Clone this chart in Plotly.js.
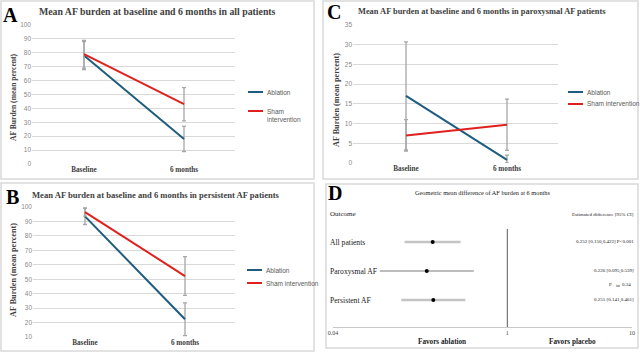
<!DOCTYPE html>
<html><head><meta charset="utf-8">
<script src="https://cdn.plot.ly/plotly-3.0.1.min.js"></script>
<style>html,body{margin:0;padding:0;background:#fff}#chart{width:640px;height:352px}</style>
</head><body><div id="chart"></div>
<script>
// ---- data ----
const timepoints = ['Baseline', '6 months'];
const seriesNames = ['Ablation', 'Sham intervention'];

// Panel A: all patients
const allAblation = [78, 18];
const allAblationErr = [10, 9];
const allSham = [79, 43];
const allShamErr = [10, 12];

// Panel C: paroxysmal AF patients
const paroxAblation = [17, 0.8];
const paroxAblationErrPlus = [13.7, 1.2];
const paroxAblationErrMinus = [13.7, 0.8];
const paroxSham = [7, 9.7];
const paroxShamErr = [4, 6.5];

// Panel B: persistent AF patients
const persAblation = [93.5, 22.3];
const persAblationErr = [5.6, 11.3];
const persSham = [96.5, 52.2];
const persShamErr = [2.8, 13.4];

// Panel D: forest plot
const outcomes = ['All patients', 'Paroxysmal AF', 'Persistent AF'];
const estimates = [0.252, 0.226, 0.255];
const ciLow = [0.150, 0.095, 0.141];
const ciHigh = [0.422, 0.539, 0.461];
const pValues = [' P<0.001', '', ''];
const pInteraction = '0.34';
const forestTicks = [0.04, 1, 10];
const forestTickText = ['0.04', '1', '10'];

// ---- helpers ----
const W = 640, H = 352;
const px = x => x / W;
const py = y => 1 - y / H;
const BLUE = '#1F5C7E', RED = '#E0201E', ERR = '#a6a6a6';
const SERIF = 'Liberation Serif, Times New Roman, serif';
const SANS = 'Liberation Sans, Arial, sans-serif';

function lineTrace(y, plus, minus, color, xa, ya, name) {
  return {x: [0, 1], y: y, type: 'scatter', mode: 'lines', name: name,
    line: {color: color, width: 2}, xaxis: xa, yaxis: ya, showlegend: false, hoverinfo: 'skip',
    error_y: {type: 'data', symmetric: false, array: plus, arrayminus: minus,
      color: ERR, thickness: 1.3, width: 2}};
}
function yStyle(dom, range, dtick, anchor) {
  return {domain: [py(dom[1]), py(dom[0])], range: range, dtick: dtick, anchor: anchor,
    showgrid: true, gridcolor: '#d9d9d9', gridwidth: 1, zeroline: false, showline: false,
    ticks: '', tickfont: {family: SANS, size: 6.5, color: '#8a8a8a'}, fixedrange: true};
}
function xStyle(dom, range, anchor) {
  return {domain: [px(dom[0]), px(dom[1])], range: range, anchor: anchor,
    tickvals: [0, 1], ticktext: timepoints, showgrid: false, zeroline: false, showline: false,
    ticks: '', tickfont: {family: SERIF, size: 7.2, color: '#404040', weight: 'bold'}, fixedrange: true};
}

const traces = [
  lineTrace(allAblation, allAblationErr, allAblationErr, BLUE, 'x', 'y', seriesNames[0]),
  lineTrace(allSham, allShamErr, allShamErr, RED, 'x', 'y', seriesNames[1]),
  lineTrace(paroxAblation, paroxAblationErrPlus, paroxAblationErrMinus, BLUE, 'x2', 'y2', seriesNames[0]),
  lineTrace(paroxSham, paroxShamErr, paroxShamErr, RED, 'x2', 'y2', seriesNames[1]),
  lineTrace(persAblation, persAblationErr, persAblationErr, BLUE, 'x3', 'y3', seriesNames[0]),
  lineTrace(persSham, persShamErr, persShamErr, RED, 'x3', 'y3', seriesNames[1])
];
// forest: reference line at 1
traces.push({x: [1, 1], y: [0.07, 3.45], type: 'scatter', mode: 'lines', xaxis: 'x4', yaxis: 'y4',
  line: {color: '#595959', width: 1}, showlegend: false, hoverinfo: 'skip'});
const ciStyles = [{c: '#c4c4c4', t: 2.5}, {c: '#7a7a7a', t: 1}, {c: '#c4c4c4', t: 2.5}];
outcomes.forEach((o, i) => {
  traces.push({x: [estimates[i]], y: [3 - i], type: 'scatter', mode: 'markers', xaxis: 'x4', yaxis: 'y4',
    name: o, showlegend: false, hoverinfo: 'skip',
    marker: {color: '#000', size: 4},
    error_x: {type: 'data', symmetric: false, array: [ciHigh[i] - estimates[i]],
      arrayminus: [estimates[i] - ciLow[i]], color: ciStyles[i].c, thickness: ciStyles[i].t, width: 0}});
});

// ---- annotations ----
const ann = [];
function addText(text, x, y, o) {
  ann.push(Object.assign({text: text, x: px(x), y: py(y), xref: 'paper', yref: 'paper',
    showarrow: false, xanchor: 'center', yanchor: 'middle'}, o || {}));
}
const titleFont = s => ({family: SERIF, size: s, color: '#404040', weight: 'bold'});
addText('A', 10, 15, {font: {family: SERIF, size: 20, color: '#000', weight: 'bold'}});
addText('C', 334, 12, {font: {family: SERIF, size: 20, color: '#000', weight: 'bold'}});
addText('B', 12, 197, {font: {family: SERIF, size: 20, color: '#000', weight: 'bold'}});
addText('D', 335, 193, {font: {family: SERIF, size: 20, color: '#000', weight: 'bold'}});
addText('Mean AF burden at baseline and 6 months in all patients', 157, 12, {font: titleFont(9.8)});
addText('Mean AF burden at baseline and 6 months in paroxysmal AF patients', 482, 12, {font: titleFont(8.4)});
addText('Mean AF burden at baseline and 6 months in persistent AF patients', 156, 195, {font: titleFont(8.6)});
addText('AF Burden (mean percent)', 13, 97, {textangle: -90, font: titleFont(7.6)});
addText('AF Burden (mean percent)', 336, 100, {textangle: -90, font: titleFont(8.2)});
addText('AF Burden (mean percent)', 13, 270, {textangle: -90, font: titleFont(8.2)});

// manual legends
const shapes = [];
const legFont = {family: SANS, size: 6.5, color: '#595959'};
function legend(x, y, color, lines) {
  shapes.push({type: 'line', xref: 'paper', yref: 'paper', x0: px(x), x1: px(x + 15), y0: py(y), y1: py(y),
    line: {color: color, width: 2}});
  lines.forEach((t, k) => addText(t, x + 17, y + k * 8, {xanchor: 'left', font: legFont}));
}
legend(248, 92, BLUE, [seriesNames[0]]);
legend(248, 111, RED, seriesNames[1].split(' '));
legend(568, 92, BLUE, [seriesNames[0]]);
legend(568, 104, RED, [seriesNames[1]]);
legend(247, 270, BLUE, [seriesNames[0]]);
legend(247, 283, RED, [seriesNames[1]]);

// panel borders
[[1, 1, 314, 179], [323, 1, 638, 179], [1, 183, 314, 351], [326, 184, 638, 348]].forEach(b => {
  shapes.push({type: 'rect', xref: 'paper', yref: 'paper', x0: px(b[0]), x1: px(b[2]), y0: py(b[3]), y1: py(b[1]),
    line: {color: '#d9d9d9', width: 1.5}, fillcolor: 'rgba(0,0,0,0)', layer: 'below'});
});

// forest texts
const dSerif = (s, c) => ({family: SERIF, size: s, color: c || '#000'});
addText('Geometric mean difference of AF burden at 6 months', 482, 192, {font: dSerif(6.3, '#222')});
addText('Outcome', 328, 214, {xanchor: 'left', font: dSerif(7, '#222')});
addText('Estimated difference [95% CI]', 636, 214, {xanchor: 'right', font: dSerif(5, '#222')});
outcomes.forEach((o, i) => {
  ann.push({text: o, x: px(328), y: 3 - i, xref: 'paper', yref: 'y4', xanchor: 'left', yanchor: 'middle',
    showarrow: false, font: dSerif(7.6, '#222')});
  ann.push({text: estimates[i].toFixed(3) + ' [' + ciLow[i].toFixed(3) + ',' + ciHigh[i].toFixed(3) + ']' + pValues[i],
    x: px(636), y: 3 - i, xref: 'paper', yref: 'y4', xanchor: 'right', yanchor: 'middle',
    showarrow: false, font: dSerif(5, '#222')});
});
ann.push({text: 'P', x: px(614), y: 1.55, xref: 'paper', yref: 'y4',
  xanchor: 'right', yanchor: 'middle', showarrow: false, font: dSerif(5, '#222')});
ann.push({text: 'int', x: px(614), y: 1.49, xref: 'paper', yref: 'y4',
  xanchor: 'left', yanchor: 'middle', showarrow: false, font: dSerif(3.6, '#222')});
ann.push({text: pInteraction, x: px(619.5), y: 1.55, xref: 'paper', yref: 'y4',
  xanchor: 'left', yanchor: 'middle', showarrow: false, font: dSerif(5, '#222')});
addText('Favors ablation', 442, 342, {font: {family: SERIF, size: 7.2, color: '#222', weight: 'bold'}});
addText('Favors placebo', 572, 342, {font: {family: SERIF, size: 7.2, color: '#222', weight: 'bold'}});

const layout = {
  width: W, height: H, margin: {l: 0, r: 0, t: 0, b: 0},
  paper_bgcolor: '#fff', plot_bgcolor: 'rgba(0,0,0,0)', showlegend: false,
  xaxis: xStyle([32, 235], [-0.52, 1.51], 'y'),
  yaxis: yStyle([25, 164], [0, 100], 10, 'x'),
  xaxis2: xStyle([353, 558], [-0.525, 1.505], 'y2'),
  yaxis2: yStyle([25, 163], [0, 35], 5, 'x2'),
  xaxis3: xStyle([33, 235], [-0.52, 1.5], 'y3'),
  yaxis3: yStyle([207, 337], [10, 100], 10, 'x3'),
  xaxis4: {domain: [px(333), px(632)], type: 'log', range: [Math.log10(0.04), 1], anchor: 'y4',
    tickvals: forestTicks, ticktext: forestTickText, showgrid: false, zeroline: false,
    showline: true, linecolor: '#c8c8c8', linewidth: 1, ticks: '',
    tickfont: {family: SERIF, size: 6, color: '#444'}, fixedrange: true},
  yaxis4: {domain: [py(327), py(227.5)], range: [0.07, 3.5], anchor: 'x4', visible: false, fixedrange: true},
  annotations: ann, shapes: shapes
};
Plotly.newPlot('chart', traces, layout, {staticPlot: true, displayModeBar: false});
</script></body></html>
